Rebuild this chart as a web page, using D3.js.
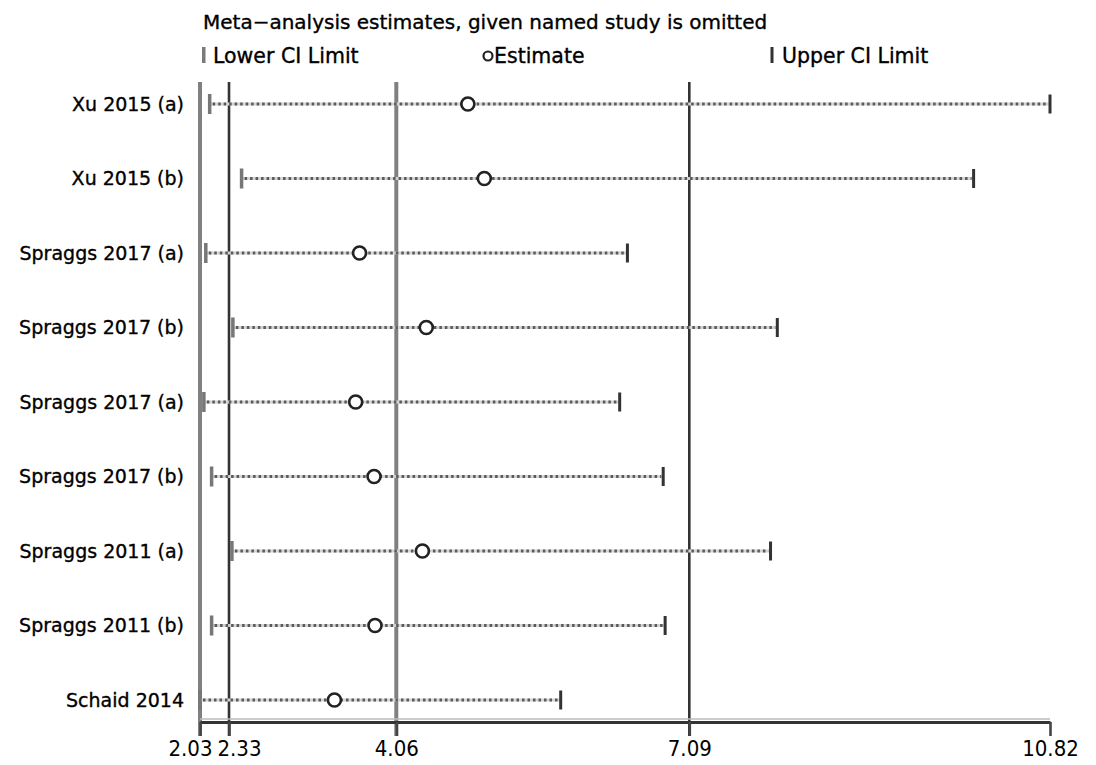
<!DOCTYPE html>
<html>
<head>
<meta charset="utf-8">
<script src="https://cdn.jsdelivr.net/npm/d3@7"></script>
<style>
  html, body { margin: 0; padding: 0; background: #fff; }
  svg { display: block; }
</style>
</head>
<body>
<svg id="chart" width="1096" height="765"></svg>
<script>
// ---- data ----
const studies = ["Xu 2015 (a)", "Xu 2015 (b)", "Spraggs 2017 (a)", "Spraggs 2017 (b)",
                 "Spraggs 2017 (a)", "Spraggs 2017 (b)", "Spraggs 2011 (a)", "Spraggs 2011 (b)", "Schaid 2014"];
const lowerCI  = [2.13, 2.46, 2.09, 2.37, 2.07, 2.15, 2.36, 2.15, 2.03];
const estimate = [4.80, 4.97, 3.68, 4.37, 3.64, 3.83, 4.33, 3.84, 3.42];
const upperCI  = [10.82, 10.03, 6.45, 8.00, 6.37, 6.82, 7.93, 6.84, 5.76];
const tickValues = [2.03, 2.33, 4.06, 7.09, 10.82];
const tickLabels = ["2.03", "2.33", "4.06", "7.09", "10.82"];
const refLines = [2.03, 2.33, 4.06, 7.09];
const refStyle = ["light", "dark", "light", "dark"];
const titleText = "Meta\u2212analysis estimates, given named study is omitted";
const legendLabels = ["Lower CI Limit", "Estimate", "Upper CI Limit"];

// ---- scales ----
const svg = d3.select("#chart");
const x = d3.scaleLinear().domain([2.03, 10.82]).range([200, 1050]);
const y = d3.scalePoint().domain(d3.range(studies.length)).range([104, 700]);

const font = "'DejaVu Sans', 'Liberation Sans', sans-serif";

// ---- title & legend ----
svg.append("text").attr("x", 203).attr("y", 29)
  .attr("font-family", font).attr("font-size", 20).attr("fill", "#000")
  .attr("stroke", "#000").attr("stroke-width", 0.35)
  .text(titleText);

const lg = svg.append("g").attr("font-family", font).attr("font-size", 20.5)
  .attr("stroke-width", 0.35);
lg.append("rect").attr("x", 202).attr("y", 47).attr("width", 3.5).attr("height", 16).attr("fill", "#7a7a7a");
lg.append("text").attr("x", 213).attr("y", 63).attr("stroke", "#000").text(legendLabels[0]);
lg.append("circle").attr("cx", 488).attr("cy", 56).attr("r", 4.5).attr("fill", "#fff").attr("stroke", "#222").attr("stroke-width", 2.2);
lg.append("text").attr("x", 494).attr("y", 63).attr("stroke", "#000").text(legendLabels[1]);
lg.append("rect").attr("x", 770.5).attr("y", 47).attr("width", 3).attr("height", 16).attr("fill", "#333");
lg.append("text").attr("x", 782).attr("y", 63).attr("stroke", "#000").text(legendLabels[2]);

// ---- reference vertical lines ----
svg.append("g").selectAll("line").data(refLines).join("line")
  .attr("x1", d => x(d)).attr("x2", d => x(d))
  .attr("y1", 82).attr("y2", 736)
  .attr("stroke", (d, i) => refStyle[i] === "light" ? "#808080" : "#333")
  .attr("stroke-width", (d, i) => refStyle[i] === "light" ? 4 : 2.6);

// ---- axis ----
const axis = d3.axisBottom(x).tickValues(tickValues).tickFormat((d, i) => tickLabels[i])
  .tickSize(14).tickPadding(4).tickSizeOuter(0);
const ax = svg.append("g").attr("transform", "translate(0,722)").call(axis);
ax.select(".domain").attr("stroke", "#333").attr("stroke-width", 3);
ax.selectAll(".tick line").attr("stroke", "#444").attr("stroke-width", 2.6);
ax.selectAll(".tick text")
  .attr("font-family", "'Liberation Sans Narrow', 'DejaVu Sans Condensed', sans-serif")
  .attr("font-size", 22).attr("fill", "#000")
  .attr("dx", (d, i) => i === 0 ? -10 : (i === 1 ? 10 : 0));
svg.append("line").attr("x1", 200).attr("x2", 1050).attr("y1", 719).attr("y2", 719)
  .attr("stroke", "#bbb").attr("stroke-width", 1.5);

// ---- rows ----
const rows = svg.append("g");
studies.forEach((s, i) => {
  const yy = y(i);
  rows.append("line").attr("x1", x(lowerCI[i])).attr("x2", x(upperCI[i]))
    .attr("y1", yy).attr("y2", yy).attr("stroke", "#d4d4d4").attr("stroke-width", 3);
  rows.append("line").attr("x1", x(lowerCI[i]) + 3).attr("x2", x(upperCI[i]) - 2)
    .attr("y1", yy).attr("y2", yy).attr("stroke", "#5a5a5a").attr("stroke-width", 3)
    .attr("stroke-dasharray", "2.5,3");
  rows.append("rect").attr("x", x(lowerCI[i]) - 1.75).attr("y", yy - 10)
    .attr("width", 3.5).attr("height", 20).attr("fill", "#777");
  rows.append("rect").attr("x", x(upperCI[i]) - 1.5).attr("y", yy - 9.5)
    .attr("width", 3).attr("height", 19).attr("fill", "#333");
  rows.append("circle").attr("cx", x(estimate[i])).attr("cy", yy).attr("r", 6.5)
    .attr("fill", "#fff").attr("stroke", "#222").attr("stroke-width", 2.6);
  rows.append("text").attr("x", 184).attr("y", yy).attr("dy", "0.36em")
    .attr("text-anchor", "end").attr("font-family", font).attr("font-size", 19)
    .attr("fill", "#000").attr("stroke", "#000").attr("stroke-width", 0.35).text(s);
});
</script>
</body>
</html>
